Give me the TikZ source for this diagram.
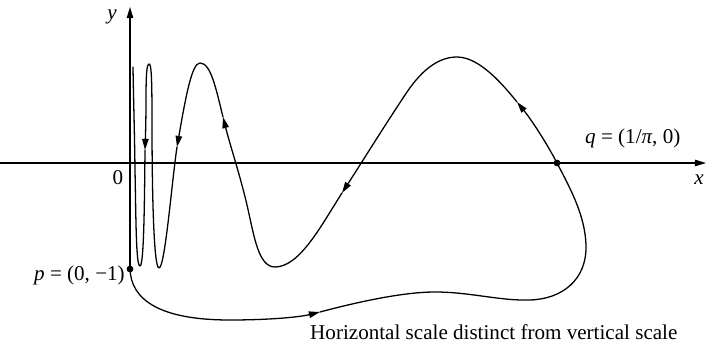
\documentclass[tikz,border=0pt]{standalone}
\usepackage{fontspec}
\setmainfont{Liberation Serif}
\usetikzlibrary{arrows.meta}
\begin{document}
\begin{tikzpicture}[x=0.03cm,y=-0.03cm,
  line/.style={line width=1.1pt, line cap=round, line join=round},
  arr/.style={line, -{Triangle[length=9.5pt,width=5.5pt]}},
  dot/.style={circle, fill, inner sep=0pt, minimum size=5.5pt},
  lbl/.style={font=\fontsize{18}{21}\selectfont, inner sep=0pt}]
\useasboundingbox (0,0) rectangle (707,342);
% axes
\coordinate (xl) at (0,163);
\coordinate (xr) at (706,163);
\coordinate (yt) at (130,7);
\node[dot] (p) at (130,269) {};
\node[dot] (q) at (557,163) {};
\draw[arr] (xl) -- (xr);
\draw[arr] (p.center) -- (yt);
% arrow points on the curve
\coordinate (a1) at (320,312);
\coordinate (a2) at (517,102);
\coordinate (a3) at (342,193);
\coordinate (a4) at (223,117);
\coordinate (a5) at (177,147);
\coordinate (a6) at (145,150);
\coordinate (e) at (133,67);
% curve
\draw[arr] (p.center) .. controls (131,300) and (160,320) .. (230,320)
  .. controls (270,320) and (300,317) .. (a1);
\draw[line] (a1) .. controls (350,304) and (400,292) .. (435,292)
  .. controls (470,292) and (500,301) .. (530,300)
  .. controls (562,299) and (587,280) .. (586,245)
  .. controls (585,215) and (570,188) .. (q.center);
\draw[arr] (q.center) .. controls (545,140) and (530,118) .. (a2);
\draw[arr] (a2) .. controls (504,86) and (480,57) .. (457,57)
  .. controls (437,57) and (420,72) .. (405,95)
  .. controls (385,125) and (362,162) .. (a3);
\draw[arr] (a3) .. controls (322,224) and (300,267) .. (275,267)
  .. controls (258,267) and (254,235) .. (247,205)
  .. controls (240,175) and (230,145) .. (a4);
\draw[arr] (a4) .. controls (216,89) and (211,63) .. (200,63)
  .. controls (192,63) and (186,95) .. (a5);
\draw[arr] (a5) .. controls (172,180) and (165,268) .. (159,268)
  .. controls (154,268) and (152,200) .. (152,120)
  .. controls (152,72) and (151,64) .. (149,64)
  .. controls (147,64) and (146,72) .. (146,100)
  .. controls (146,120) and (145.5,135) .. (a6);
\draw[line] (a6) .. controls (144.5,200) and (144,266) .. (140,266)
  .. controls (136,266) and (136,220) .. (135,170)
  .. controls (134.5,130) and (133.5,100) .. (e);
% dots on top
\node[dot] at (p.center) {};
\node[dot] at (q.center) {};
% labels
\node[lbl, anchor=base west] (cap) at (310,339) {Horizontal scale distinct from vertical scale};
\node[lbl, anchor=base west] (qlab) at (585,143) {\textit{q} = (1/\textit{π}, 0)};
\node[lbl, anchor=base east] (plab) at (125,280) {\textit{p} = (0, −1)};
\node[lbl] (ylab) at (112,17) {\textit{y}};
\node[lbl] (xlab) at (699,180) {\textit{x}};
\node[lbl] (zero) at (118,178) {0};
\end{tikzpicture}
\end{document}
